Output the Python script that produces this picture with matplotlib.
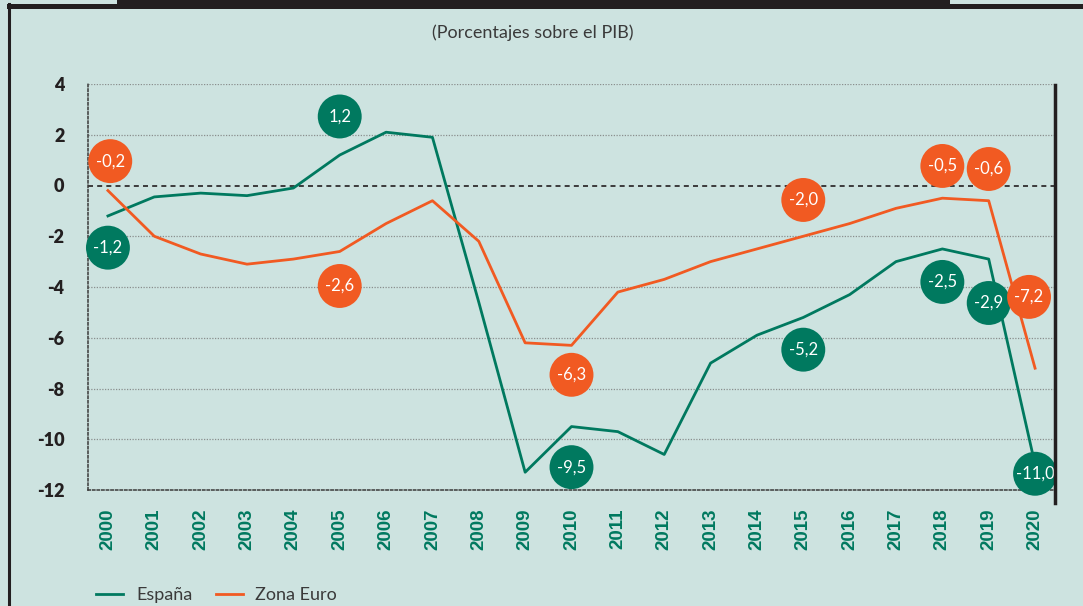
import matplotlib.pyplot as plt
from matplotlib.lines import Line2D
from matplotlib.patches import Rectangle

### Data (porcentajes sobre el PIB)
years = list(range(2000, 2021))
espana = [-1.2, -0.45, -0.3, -0.4, -0.1, 1.2, 2.1, 1.9, -4.6, -11.3, -9.5,
          -9.7, -10.6, -7.0, -5.9, -5.2, -4.3, -3.0, -2.5, -2.9, -11.0]
zona_euro = [-0.2, -2.0, -2.7, -3.1, -2.9, -2.6, -1.5, -0.6, -2.2, -6.2, -6.3,
             -4.2, -3.7, -3.0, -2.5, -2.0, -1.5, -0.9, -0.5, -0.6, -7.2]
yticks = [4, 2, 0, -2, -4, -6, -8, -10, -12]

### Which years get a bubble label, and where (offset from the point)
esp_lbl_years = [2000, 2005, 2010, 2015, 2018, 2019, 2020]
esp_lbl_off = [(0, -1.25), (0, 1.52), (0, -1.6), (0, -1.27), (0, -1.3), (0, -1.73), (0, -0.36)]
eur_lbl_years = [2000, 2005, 2010, 2015, 2018, 2019, 2020]
eur_lbl_off = [(0.05, 1.16), (0, -1.36), (0, -1.16), (0, 1.43), (0, 1.27), (0, 1.25), (-0.13, 2.81)]

### Styles
bg = '#cde3e0'
green = '#00795f'
orange = '#f15a22'
dark = '#231f20'
W, H = 1083, 606

plt.rcParams['font.family'] = ['Lato', 'DejaVu Sans']

fig = plt.figure(figsize=(W / 100, H / 100), dpi=100, facecolor=bg)

def px(x, y):
    return x / W, 1 - y / H

### frame decorations
fig.patches.append(Rectangle(px(117, 9), (950 - 117) / W, 9 / H, transform=fig.transFigure,
                             facecolor=dark, edgecolor='none'))
fig.patches.append(Rectangle(px(7, 9), (W - 7) / W, 5.5 / H, transform=fig.transFigure,
                             facecolor=dark, edgecolor='none'))
fig.lines.append(Line2D([8.5 / W, 8.5 / W], [0, 1 - 4 / H], transform=fig.transFigure,
                        color=dark, lw=2.2))

ax = fig.add_axes([88 / W, 1 - 490 / H, (1055 - 88) / W, 406 / H])
ax.set_facecolor(bg)
ax.set_xlim(1999.57, 2020.43)
ax.set_ylim(-12, 4)

for yv in yticks:
    if yv == 0:
        ax.axhline(yv, color=dark, lw=1.2, ls=(0, (3, 2.5)), zorder=1)
    elif yv == -12:
        pass
    else:
        ax.axhline(yv, color='#8a8f8e', lw=0.9, ls=(0, (1, 1.2)), zorder=1)

for s in ['top', 'right']:
    ax.spines[s].set_visible(False)
for s in ['left', 'bottom']:
    ax.spines[s].set_linestyle((0, (1.5, 1.5)))
    ax.spines[s].set_color('#3a3a3a')
    ax.spines[s].set_linewidth(1.1)

# right solid edge
fig.lines.append(Line2D([1055 / W, 1055 / W], [1 - 85 / H, 1 - 503 / H], transform=fig.transFigure,
                        color=dark, lw=2.5))

ax.plot(years, espana, color=green, lw=2.0, zorder=3, label='España')
ax.plot(years, zona_euro, color=orange, lw=2.0, zorder=3, label='Zona Euro')

def bubbles(series, lyears, offs, color):
    for yr, (dx, dy) in zip(lyears, offs):
        v = series[years.index(yr)]
        x, y = yr + dx, v + dy
        ax.scatter([x], [y], s=1000, color=color, edgecolor='none', zorder=5, clip_on=False)
        ax.text(x, y, f'{v:.1f}'.replace('.', ','), color='white', fontsize=12,
                ha='center', va='center', zorder=6)

bubbles(espana, esp_lbl_years, esp_lbl_off, green)
bubbles(zona_euro, eur_lbl_years, eur_lbl_off, orange)

ax.set_yticks(yticks)
ax.set_yticklabels([str(t) for t in yticks], fontsize=13, fontweight='heavy', color=dark)
ax.set_xticks(years)
ax.set_xticklabels([str(y) for y in years], rotation=90, fontsize=13.5, fontweight='bold',
                   color=green, family=['Liberation Sans', 'DejaVu Sans'])
ax.tick_params(axis='y', length=0, pad=17)
ax.tick_params(axis='x', length=0, pad=13)

fig.text(533 / W, 1 - 33 / H, '(Porcentajes sobre el PIB)', ha='center', va='center',
         fontsize=13, color='#3a3a3a')

fig.legend(loc='lower left', bbox_to_anchor=(80 / W, -0.022), ncol=2, frameon=False,
           fontsize=13, handlelength=1.5, handletextpad=0.7, columnspacing=1.3,
           labelcolor='#3a3a3a')

plt.savefig('out.png', dpi=100, facecolor=bg)
